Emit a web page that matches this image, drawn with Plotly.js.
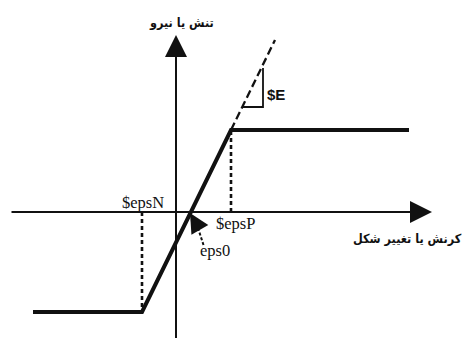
<!DOCTYPE html>
<html>
<head>
<meta charset="utf-8">
<script src="https://cdn.plot.ly/plotly-3.0.1.min.js"></script>
<style>
    html, body { margin: 0; padding: 0; background: #fff; }
    #chart { width: 465px; height: 338px; }
</style>
</head>
<body>
<div id="chart"></div>
<script>
// Key strain / stress values of the bilinear law
const epsN = -3.4;
const epsP = 5.5;
const eps0 = 1.5;
const stressN = -10.0;
const stressP = 8.2;

// Main curve
const curveStrain = [-14.3, epsN, epsP, 23.3];
const curveStress = [stressN, stressN, stressP, stressP];

// Dashed elastic extension above yield
const extStrain = [epsP, 9.9];
const extStress = [stressP, 17.2];

// Slope triangle for $E
const triStrain = [8.7, 8.7, 6.7];
const triStress = [14.4, 10.5, 10.5];

// Axis extents
const xAxisExt = [-16.6, 25.6];
const yAxisExt = [-13.5, 17.7];

const labels = ['$epsN', '$epsP', 'eps0', '$E'];
const xTitle = 'کرنش یا تغییر شکل';
const yTitle = 'تنش یا نیرو';

function createMaterialChart() {
    const elementId = 'chart';
    const lineColor = '#111';

    const data = [
        {
            x: [epsN, epsN], y: [0, stressN],
            mode: 'lines',
            line: { color: lineColor, width: 2.6, dash: '4px,3px' }
        },
        {
            x: [epsP, epsP], y: [0, stressP],
            mode: 'lines',
            line: { color: lineColor, width: 2.6, dash: '4px,3px' }
        },
        {
            x: extStrain, y: extStress,
            mode: 'lines',
            line: { color: lineColor, width: 2.3, dash: '8px,4px' }
        },
        {
            x: triStrain, y: triStress,
            mode: 'lines',
            line: { color: lineColor, width: 1.8 }
        },
        {
            x: [2.75, 2.2], y: [-3.3, -1.6],
            mode: 'lines',
            line: { color: lineColor, width: 2, dash: '3px,2px' }
        },
        {
            x: curveStrain, y: curveStress,
            mode: 'lines',
            line: { color: lineColor, width: 4 }
        }
    ];

    const serif = { family: 'Liberation Serif, serif', size: 16.5, color: lineColor };
    const arabic = { family: 'DejaVu Sans Condensed, DejaVu Sans, sans-serif', size: 12.5, color: lineColor, weight: 'bold' };

    const annotations = [
        // axes with arrow heads
        {
            x: xAxisExt[1], y: 0, ax: xAxisExt[0], ay: 0,
            xref: 'x', yref: 'y', axref: 'x', ayref: 'y',
            text: '', showarrow: true, arrowhead: 2, arrowsize: 2.2,
            arrowwidth: 2, arrowcolor: lineColor
        },
        {
            x: 0, y: yAxisExt[1], ax: 0, ay: yAxisExt[0],
            xref: 'x', yref: 'y', axref: 'x', ayref: 'y',
            text: '', showarrow: true, arrowhead: 2, arrowsize: 2.2,
            arrowwidth: 2, arrowcolor: lineColor
        },
        // eps0 pointer head
        {
            x: eps0 - 0.1, y: -0.1, ax: 2.25, ay: -1.55,
            xref: 'x', yref: 'y', axref: 'x', ayref: 'y',
            text: '', showarrow: true, arrowhead: 2, arrowsize: 2.6,
            arrowwidth: 1.5, arrowcolor: lineColor
        },
        { x: -3.3, y: 0.95, text: labels[0], showarrow: false, font: serif },
        { x: 5.9, y: -1.1, text: labels[1], showarrow: false, font: serif },
        { x: 3.9, y: -3.8, text: labels[2], showarrow: false, font: serif },
        {
            x: 10.0, y: 11.8, text: labels[3], showarrow: false,
            font: { family: 'Liberation Sans, sans-serif', size: 15, color: lineColor, weight: 'bold' }
        },
        { x: 0.5, y: 19.0, text: yTitle, showarrow: false, font: arabic },
        { x: 28.8, y: -2.6, xanchor: 'right', text: xTitle, showarrow: false, font: arabic }
    ];

    const layout = {
        width: 465,
        height: 338,
        margin: { l: 0, r: 0, t: 0, b: 0 },
        paper_bgcolor: '#fff',
        plot_bgcolor: '#fff',
        showlegend: false,
        xaxis: { range: [-17.6, 28.9], visible: false, fixedrange: true },
        yaxis: { range: [-12.6, 21.2], visible: false, fixedrange: true },
        annotations: annotations
    };

    Plotly.newPlot(elementId, data, layout, { displayModeBar: false, staticPlot: true });
}

createMaterialChart();
</script>
</body>
</html>
